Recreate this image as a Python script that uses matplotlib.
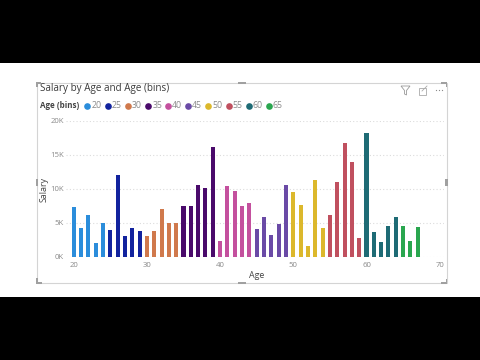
import matplotlib
matplotlib.use("Agg")
import matplotlib.pyplot as plt
from matplotlib.patches import Rectangle, Polygon

plt.rcParams['font.family'] = ['Open Sans', 'DejaVu Sans']

ages = list(range(20, 68))
salary = [7300, 4160, 6100, 1960, 4900, 3920, 12000, 3090, 4160, 3770,
          2990, 3770, 7000, 4900, 5000, 7450, 7500, 10490, 10050, 16090,
          2350, 10390, 9700, 7500, 7900, 4070, 5830, 3190, 4850, 10490,
          9460, 7600, 1520, 11270, 4160, 6080, 11025, 16720, 13880, 2740,
          18140, 3630, 2100, 4460, 5830, 4460, 2250, 4410]
bins = [20, 25, 30, 35, 40, 45, 50, 55, 60, 65]
bin_colors = ['#2b8ddb', '#12239e', '#d0794c', '#4a0a6b', '#c4509e',
              '#6a4aa6', '#dcb82c', '#c0505f', '#1e6b75', '#2aa64f']
y_ticks = [0, 5000, 10000, 15000, 20000]
y_labels = ['0K', '5K', '10K', '15K', '20K']
x_ticks = [20, 30, 40, 50, 60, 70]

W, H = 480, 360
fig = plt.figure(figsize=(W / 100, H / 100), dpi=100, facecolor='white')

# pixel layer for the page, the visual frame and its icons
bg = fig.add_axes([0, 0, 1, 1])
bg.set_xlim(0, W)
bg.set_ylim(H, 0)
bg.axis('off')
bg.add_patch(Rectangle((0, 0), W, 63, color='black', lw=0))
bg.add_patch(Rectangle((0, 297), W, 63, color='black', lw=0))
bg.add_patch(Rectangle((36.5, 83), 410, 200, fill=False, ec='#d4d4d4', lw=0.8))

# resize handles
for x, y, w, h in [(36, 82, 2, 5), (36, 82, 5, 2), (441, 82, 6, 1.5), (445.5, 82, 1.5, 5),
                   (36, 278, 1.5, 6), (36, 282, 6, 1.5), (441, 282, 6, 1.5), (445.5, 279, 1.5, 5),
                   (238, 82, 8, 1.5), (238, 282, 8, 1.5), (36, 179, 2, 7), (445, 179, 2.5, 7)]:
    bg.add_patch(Rectangle((x, y), w, h, color='#a0a0a0', lw=0))

# header icons
bg.add_patch(Polygon([(401, 86), (410, 86), (406.5, 90.5), (406.5, 95), (404.5, 94), (404.5, 90.5)],
                     fill=False, ec='#999999', lw=0.6))
bg.add_patch(Rectangle((418.5, 87.5), 7.5, 7.5, fill=False, ec='#aaaaaa', lw=0.6))
bg.plot([422, 427], [91, 86], color='#aaaaaa', lw=0.6)
bg.plot([436, 439, 442], [90, 90, 90], ls='none', marker='o', ms=0.9, mew=0, color='#888888')

bg.text(39.5, 88.5, 'Salary by Age and Age (bins)', fontsize=7.1, color='#3a3a3a', va='center', ha='left')
bg.text(39.5, 106, 'Age (bins)', fontsize=5.8, fontweight='bold', color='#444444', va='center', ha='left')

# legend, one dot and label per bin
legend_x = [87.3, 107.7, 127.7, 148, 168, 188, 208, 228.6, 248.5, 268.5]
for lx, b, c in zip(legend_x, bins, bin_colors):
    bg.plot(lx, 106, marker='o', ms=4.8, color=c, mew=0)
    bg.text(lx + 4.2, 106, str(b), fontsize=6.3, color='#8a8a8a', va='center', ha='left')

# plot area: x 20->73.7px, 70->439.7px; y 0->256.7px, 20K->120.7px
x_lo, x_hi = 66, 444
ax = fig.add_axes([x_lo / W, (H - 256.7) / H, (x_hi - x_lo) / W, 136 / H])
ax.patch.set_alpha(0)
ax.set_xlim(20 + (x_lo - 73.7) / 7.32, 20 + (x_hi - 73.7) / 7.32)
ax.set_ylim(0, 20000)

colors = [bin_colors[(a - 20) // 5] for a in ages]
ax.bar(ages, salary, width=0.55, color=colors, zorder=3)

ax.set_yticks(y_ticks, y_labels)
ax.set_xticks(x_ticks)
ax.tick_params(length=0, labelsize=5.6, labelcolor='#8a8a8a')
ax.tick_params(axis='y', pad=1.5)
ax.tick_params(axis='x', pad=4)
ax.grid(axis='y', color='#dcdcdc', lw=0.8, ls=(0, (1, 2)))
ax.set_axisbelow(True)
for s in ax.spines.values():
    s.set_visible(False)

bg.text(257, 276, 'Age', fontsize=6.4, color='#444444', ha='center', va='center')
bg.text(44, 189, 'Salary', fontsize=6.4, color='#444444', ha='center', va='center', rotation=90)

fig.savefig('out.png', dpi=100)
